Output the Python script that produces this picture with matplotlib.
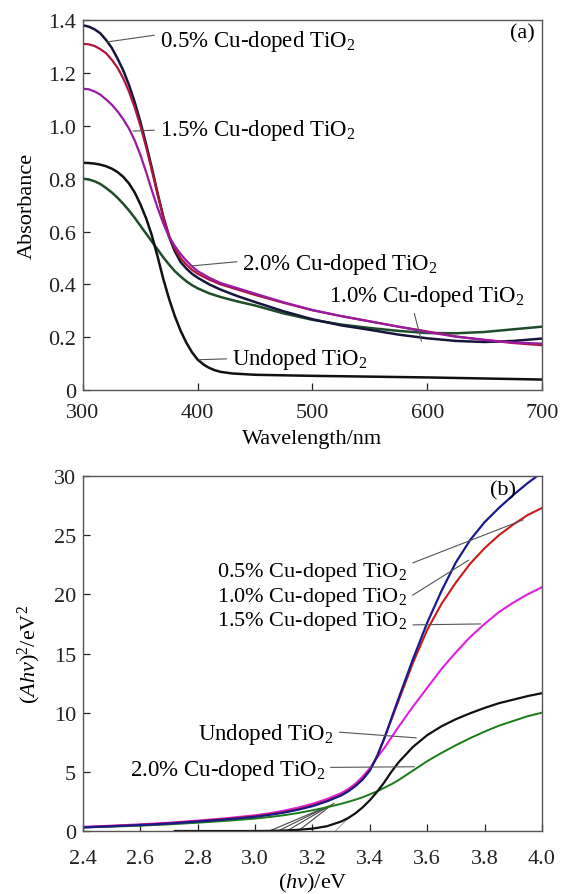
import numpy as np
import matplotlib
matplotlib.use("Agg")
import matplotlib.pyplot as plt

plt.rcParams['font.family'] = ['Liberation Serif', 'DejaVu Serif']
plt.rcParams['mathtext.fontset'] = 'custom'
plt.rcParams['mathtext.rm'] = 'Liberation Serif'
plt.rcParams['mathtext.it'] = 'Liberation Serif:italic'

# (a) absorbance spectra
wl = [300, 305, 310, 315, 320, 325, 330, 335, 340, 345, 350, 355, 360, 365, 370, 375, 380, 385,
      390, 395, 400, 410, 420, 435, 450, 475, 500, 525, 550, 575, 600, 625, 650, 675, 700]
abs_05 = [1.38, 1.375, 1.365, 1.35, 1.325, 1.295, 1.255, 1.21, 1.155, 1.09, 1.015, 0.93, 0.84, 0.745,
          0.655, 0.58, 0.525, 0.485, 0.46, 0.44, 0.425, 0.40, 0.38, 0.355, 0.333, 0.298, 0.268, 0.245,
          0.228, 0.21, 0.196, 0.186, 0.182, 0.186, 0.195]
abs_10 = [1.31, 1.308, 1.302, 1.29, 1.275, 1.25, 1.22, 1.18, 1.13, 1.07, 1.0, 0.92, 0.83, 0.74,
          0.655, 0.585, 0.535, 0.50, 0.475, 0.455, 0.44, 0.418, 0.40, 0.38, 0.36, 0.33, 0.302, 0.28,
          0.26, 0.24, 0.222, 0.203, 0.19, 0.178, 0.17]
abs_15 = [1.14, 1.138, 1.13, 1.118, 1.10, 1.08, 1.055, 1.025, 0.99, 0.945, 0.89, 0.825, 0.755, 0.69,
          0.63, 0.58, 0.545, 0.515, 0.49, 0.468, 0.45, 0.425, 0.405, 0.385, 0.365, 0.332, 0.303, 0.28,
          0.26, 0.24, 0.22, 0.202, 0.19, 0.18, 0.176]
abs_20 = [0.80, 0.797, 0.79, 0.78, 0.765, 0.748, 0.728, 0.705, 0.68, 0.652, 0.622, 0.592, 0.562, 0.532,
          0.502, 0.475, 0.45, 0.43, 0.412, 0.397, 0.385, 0.366, 0.352, 0.335, 0.32, 0.29, 0.266, 0.248,
          0.235, 0.224, 0.216, 0.215, 0.22, 0.23, 0.24]
wl_un = [300, 305, 310, 315, 320, 325, 330, 335, 340, 345, 350, 355, 360, 365, 370, 375, 380, 385,
         390, 395, 400, 405, 410, 415, 420, 430, 450, 500, 550, 600, 650, 700]
abs_un = [0.86, 0.859, 0.857, 0.853, 0.847, 0.838, 0.825, 0.807, 0.782, 0.748, 0.703, 0.65, 0.585, 0.505,
          0.42, 0.345, 0.28, 0.225, 0.18, 0.143, 0.115, 0.097, 0.084, 0.075, 0.069, 0.063, 0.058, 0.054,
          0.051, 0.048, 0.044, 0.04]

# (b) Tauc plot
hv = [2.4, 2.5, 2.6, 2.7, 2.8, 2.9, 3.0, 3.05, 3.1, 3.15, 3.2, 3.25, 3.3, 3.325, 3.35, 3.375, 3.4,
      3.425, 3.45, 3.475, 3.5, 3.55, 3.6, 3.65, 3.7, 3.75, 3.8, 3.85, 3.9, 3.95, 4.0]
t_05 = [0.3, 0.4, 0.5, 0.63, 0.8, 0.98, 1.2, 1.36, 1.55, 1.8, 2.1, 2.5, 3.0, 3.35, 3.8, 4.35, 5.1,
        6.3, 7.8, 9.5, 11.2, 14.5, 17.6, 20.3, 22.7, 24.6, 26.1, 27.3, 28.4, 29.4, 30.3]
t_10 = [0.32, 0.42, 0.52, 0.66, 0.83, 1.02, 1.25, 1.41, 1.6, 1.85, 2.15, 2.55, 3.05, 3.4, 3.85, 4.4, 5.15,
        6.3, 7.8, 9.4, 11.0, 14.2, 17.0, 19.2, 21.0, 22.6, 23.9, 25.0, 25.9, 26.7, 27.3]
t_15 = [0.35, 0.45, 0.56, 0.7, 0.88, 1.08, 1.33, 1.5, 1.72, 1.98, 2.3, 2.7, 3.2, 3.55, 4.0, 4.6, 5.3,
        6.2, 7.0, 7.9, 8.8, 10.5, 12.1, 13.7, 15.1, 16.4, 17.5, 18.5, 19.3, 20.0, 20.6]
t_20 = [0.3, 0.37, 0.45, 0.56, 0.7, 0.86, 1.05, 1.18, 1.33, 1.52, 1.75, 2.0, 2.3, 2.47, 2.65, 2.85, 3.1,
        3.35, 3.65, 3.95, 4.3, 5.1, 5.9, 6.6, 7.25, 7.85, 8.4, 8.9, 9.3, 9.7, 10.0]
hv_un = [2.72, 2.9, 3.0, 3.05, 3.1, 3.15, 3.2, 3.25, 3.3, 3.325, 3.35, 3.375, 3.4, 3.425, 3.45, 3.475,
         3.5, 3.55, 3.6, 3.65, 3.7, 3.75, 3.8, 3.85, 3.9, 3.95, 4.0]
t_un = [0.0, 0.0, 0.0, 0.01, 0.04, 0.1, 0.2, 0.4, 0.8, 1.1, 1.5, 2.0, 2.6, 3.3, 4.1, 5.0, 5.8, 7.1, 8.1,
        8.85, 9.45, 9.95, 10.4, 10.8, 11.1, 11.4, 11.65]

# band-gap extrapolation segments (x-intercept -> upper point)
tan_x0 = [3.05, 3.08, 3.11, 3.15, 3.28]
tan_x1 = [3.245, 3.255, 3.265, 3.275, 3.33]
tan_y1 = [2.0, 2.1, 2.2, 2.35, 1.2]
tan_col = ['#444444', '#444444', '#444444', '#444444', '#aaaaaa']

fig = plt.figure(figsize=(5.61, 8.95), dpi=100)
ax1 = fig.add_axes([0.148, 0.563, 0.818, 0.4135])
ax2 = fig.add_axes([0.148, 0.0704, 0.818, 0.3966])

lab = [r'0.5% Cu-doped TiO$_2$', r'1.0% Cu-doped TiO$_2$', r'1.5% Cu-doped TiO$_2$',
       r'2.0% Cu-doped TiO$_2$', r'Undoped TiO$_2$']

# --- panel (a)
ax1.plot(wl, abs_20, color='#1f4d2a', lw=1.8)
ax1.plot(wl_un, abs_un, color='#111111', lw=1.8)
ax1.plot(wl, abs_05, color='#16163c', lw=1.8)
ax1.plot(wl, abs_10, color='#b0143c', lw=1.6)
ax1.plot(wl, abs_15, color='#9a1aa6', lw=1.6)

ax1.set_xlim(300, 700)
ax1.set_ylim(0, 1.4)
ax1.set_xticks([300, 400, 500, 600, 700])
ax1.set_yticks([0, 0.2, 0.4, 0.6, 0.8, 1.0, 1.2, 1.4])
ax1.set_yticklabels(['0', '0.2', '0.4', '0.6', '0.8', '1.0', '1.2', '1.4'])
ax1.set_xlabel('Wavelength/nm', fontsize=16, labelpad=5)
ax1.set_ylabel('Absorbance', fontsize=16, labelpad=8)

lp = dict(arrowstyle='-', color='#555555', lw=0.8, shrinkA=2, shrinkB=0)
ax1.annotate(lab[0], xy=(321, 1.317), xytext=(367, 1.322), fontsize=16.5, va='center',
             arrowprops=dict(lp, relpos=(0, 0.75)))
ax1.annotate(lab[2], xy=(343.5, 0.98), xytext=(367, 0.984), fontsize=16.5, va='center',
             arrowprops=dict(lp, relpos=(0, 0.5)))
ax1.annotate(lab[3], xy=(395, 0.47), xytext=(439, 0.478), fontsize=16.5, va='center',
             arrowprops=dict(lp, relpos=(0, 0.6)))
ax1.annotate(lab[1], xy=(595, 0.185), xytext=(514, 0.358), fontsize=16.5, va='center',
             arrowprops=dict(lp, relpos=(0.43, 0.05)))
ax1.annotate(lab[4], xy=(401, 0.115), xytext=(430, 0.119), fontsize=16.5, va='center',
             arrowprops=dict(lp, relpos=(0, 0.5)))
ax1.text(694, 1.352, '(a)', fontsize=16, ha='right', va='center')

# --- panel (b)
for x0, x1, y1, c in zip(tan_x0, tan_x1, tan_y1, tan_col):
    ax2.plot([x0, x1], [0, y1], color=c, lw=0.8)
ax2.plot(hv, t_20, color='#1a7a1a', lw=1.4)
ax2.plot(hv_un, t_un, color='#111111', lw=1.6)
ax2.plot(hv, t_15, color='#e020e0', lw=1.5)
ax2.plot(hv, t_10, color='#cc1a1a', lw=1.5)
ax2.plot(hv, t_05, color='#1a1a8c', lw=1.6)

ax2.set_xlim(2.4, 4.0)
ax2.set_ylim(0, 30)
ax2.set_xticks(np.arange(2.4, 4.01, 0.2))
ax2.set_xticklabels(['2.4', '2.6', '2.8', '3.0', '3.2', '3.4', '3.6', '3.8', '4.0'])
ax2.set_yticks([0, 5, 10, 15, 20, 25, 30])
ax2.set_xlabel(r'($hv$)/eV', fontsize=16, labelpad=2)
ax2.set_ylabel(r'($Ahv$)$^2$/eV$^2$', fontsize=16, labelpad=8)

ax2.annotate(lab[0], xy=(3.935, 26.3), xytext=(3.531, 21.9), fontsize=16, va='center', ha='right',
             arrowprops=dict(lp, relpos=(1, 0.8)))
ax2.annotate(lab[1], xy=(3.745, 22.9), xytext=(3.531, 19.85), fontsize=16, va='center', ha='right',
             arrowprops=dict(lp, relpos=(1, 0.4)))
ax2.annotate(lab[2], xy=(3.786, 17.5), xytext=(3.531, 17.8), fontsize=16, va='center', ha='right',
             arrowprops=dict(lp, relpos=(1, 0.3)))
ax2.annotate(lab[4], xy=(3.562, 7.87), xytext=(3.275, 8.28), fontsize=16.5, va='center', ha='right',
             arrowprops=dict(lp, relpos=(1, 0.55)))
ax2.annotate(lab[3], xy=(3.556, 5.43), xytext=(3.244, 5.16), fontsize=16.5, va='center', ha='right',
             arrowprops=dict(lp, relpos=(1, 0.6)))
ax2.text(3.91, 28.8, '(b)', fontsize=16, ha='right', va='center')

for ax in (ax1, ax2):
    ax.tick_params(direction='in', length=5, width=0.9, labelsize=16, pad=5, colors='#222222')
    for s in ax.spines.values():
        s.set_color('#555555')
        s.set_linewidth(1.0)
ax1.tick_params(axis='x', pad=9)
ax2.tick_params(axis='x', pad=13)

fig.savefig('out.png', dpi=100)
